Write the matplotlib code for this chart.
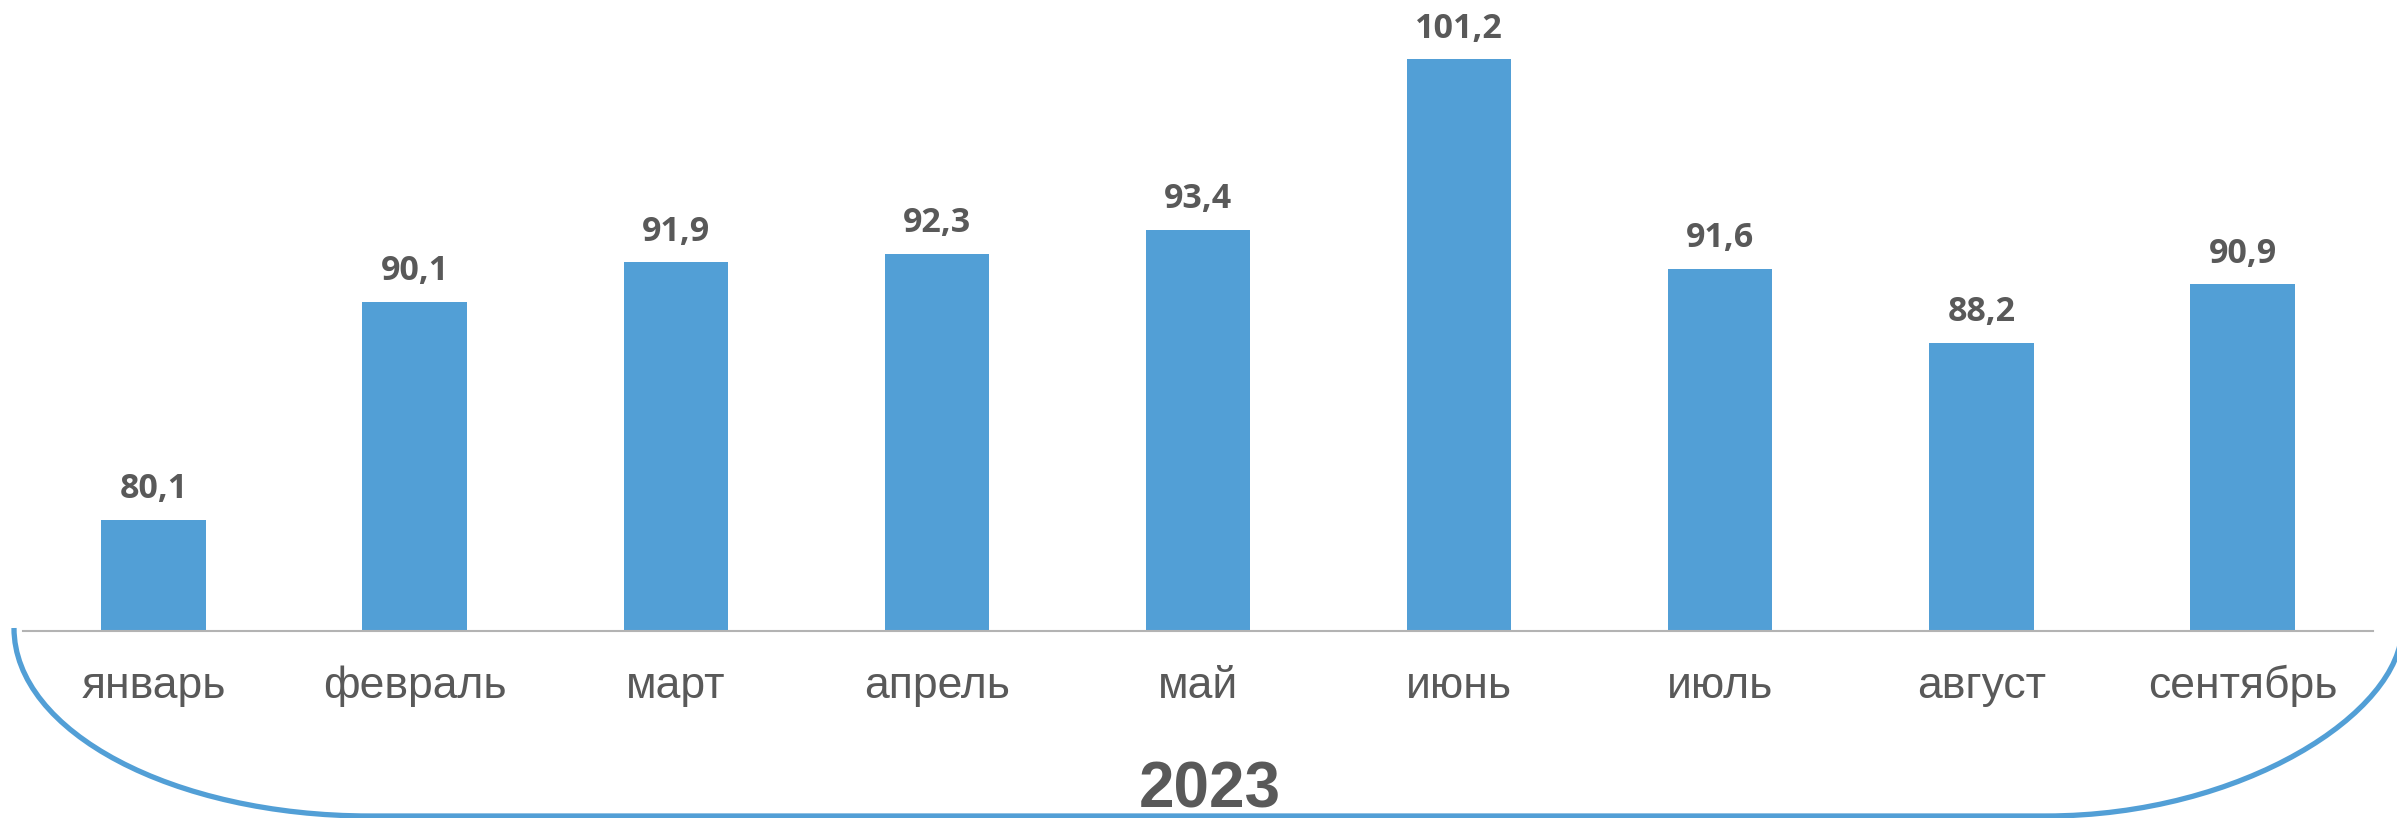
import matplotlib
matplotlib.use('Agg')
import numpy as np
import matplotlib.pyplot as plt
from matplotlib.path import Path
from matplotlib.patches import PathPatch
from matplotlib.transforms import IdentityTransform

# data
months = ['январь', 'февраль', 'март', 'апрель', 'май', 'июнь', 'июль', 'август', 'сентябрь']
values = [80.1, 90.1, 91.9, 92.3, 93.4, 101.2, 91.6, 88.2, 90.9]
year = '2023'

W, H = 2397, 818
DPI = 100
bar_color = '#529FD6'
text_color = '#595959'

fig = plt.figure(figsize=(W / DPI, H / DPI), dpi=DPI)

# axes placed in pixels: baseline at y=631, from x=23 to x=2373
base_px = 631
ax = fig.add_axes([23 / W, (H - base_px) / H, 2350 / W, base_px / H])
px_per_unit = 21.82
ymin = 75
ax.set_ylim(ymin, ymin + base_px / px_per_unit)
ax.set_xlim(-0.5, len(months) - 0.5)

x = np.arange(len(months))
ax.bar(x, values, width=0.4, color=bar_color, zorder=2)

for xi, v in zip(x, values):
    ax.annotate(f'{v:.1f}'.replace('.', ','), (xi, v), xytext=(0, 15.5),
                textcoords='offset points', ha='center', va='baseline',
                fontsize=24.5, fontweight='bold', family='Open Sans', color=text_color)

# month labels under the axis
lab_base = (H - 698 - (H - base_px)) / base_px
for xi, m in zip(x, months):
    ax.text(xi, lab_base, m, transform=ax.get_xaxis_transform(), ha='center', va='baseline',
            fontsize=32, family='Liberation Sans', color=text_color)

for s in ['top', 'left', 'right']:
    ax.spines[s].set_visible(False)
ax.spines['bottom'].set_color('#B3B3B3')
ax.spines['bottom'].set_linewidth(1.5)
ax.set_xticks([])
ax.set_yticks([])

# year under the months
fig.text(1210 / W, (H - 808) / H, year, ha='center', va='baseline', fontsize=46,
         fontweight='bold', family='Liberation Sans', color=text_color)

# rounded bracket below the chart (pixel coords, y from bottom)
k = 0.5523
x0, x1, xe = 14, 370, 2402
y_top, y_bot = H - 628, H - 816
rx, ry = x1 - x0, y_top - y_bot
xr = xe - rx
verts = [(x0, y_top), (x0, y_top - k * ry), (x1 - k * rx, y_bot), (x1, y_bot),
         (xr, y_bot),
         (xr + k * rx, y_bot), (xe, y_bot + k * ry), (xe, y_top)]
codes = [Path.MOVETO, Path.CURVE4, Path.CURVE4, Path.CURVE4,
         Path.LINETO,
         Path.CURVE4, Path.CURVE4, Path.CURVE4]
brace = PathPatch(Path(verts, codes), fill=False, edgecolor=bar_color, lw=3.8,
                  transform=IdentityTransform(), clip_on=False)
fig.add_artist(brace)

fig.savefig('out.png', dpi=DPI)
